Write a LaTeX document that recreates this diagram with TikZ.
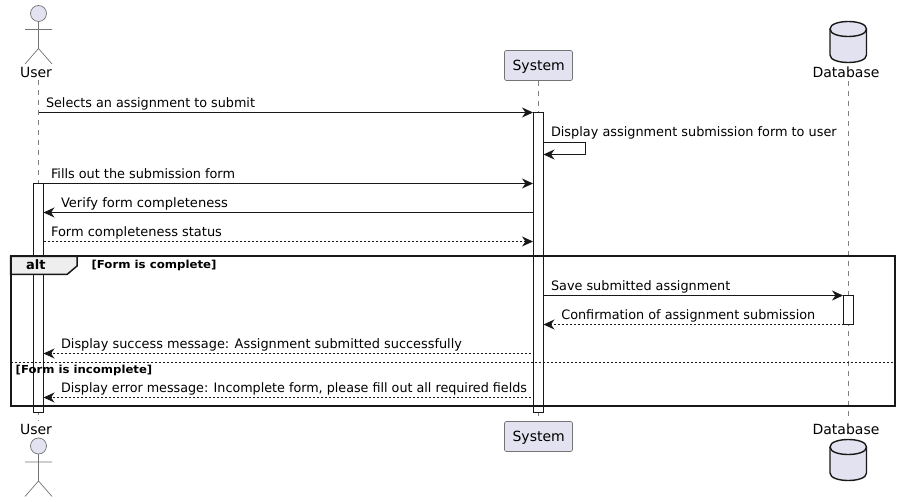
\documentclass[tikz,border=0pt]{standalone}
\usepackage{fontspec}
\usepackage{graphicx}
\setmainfont{DejaVu Sans}
\usetikzlibrary{arrows.meta}
\definecolor{umlink}{HTML}{181818}
\definecolor{umlfill}{HTML}{E2E2F0}
\definecolor{umltab}{HTML}{EEEEEE}
\newcommand{\fitto}[2]{\resizebox{#1pt}{\height}{#2}}
\tikzset{
  lbl/.style={anchor=base west,inner sep=0pt,outer sep=0pt,font=\fontsize{13}{15}\selectfont,text=black},
  partlbl/.style={anchor=base,inner sep=0pt,outer sep=0pt,font=\fontsize{14}{16}\selectfont,text=black},
  guardlbl/.style={anchor=base west,inner sep=0pt,outer sep=0pt,font=\fontsize{11}{13}\selectfont\bfseries,text=black},
  partbox/.style={draw=umlink!60,fill=umlfill,line width=0.7pt,rounded corners=2pt},
  person/.style={draw=umlink!60,line width=0.7pt},
  dbshape/.style={draw=umlink,fill=umlfill,line width=1.4pt},
  life/.style={draw=umlink!55,line width=0.6pt,dash pattern=on 5pt off 5pt},
  activ/.style={draw=umlink,fill=white,line width=1pt},
  msg/.style={draw=umlink,line width=1pt,-{Stealth[length=11pt,width=10pt,inset=3.5pt]}},
  rmsg/.style={msg,dash pattern=on 2pt off 2pt},
}
\begin{document}
\begin{tikzpicture}[x=1pt,y=-1pt]
\useasboundingbox (0,0) rectangle (901,502);
% lifelines
\coordinate (ut) at (38.5,80); \coordinate (ub) at (38.5,421);
\coordinate (st) at (538.5,81); \coordinate (sb) at (538.5,421);
\coordinate (dt) at (848.5,81); \coordinate (db) at (848.5,421);
\draw[life] (ut) -- (ub);
\draw[life] (st) -- (sb);
\draw[life] (dt) -- (db);
% actors
\foreach \y in {13.5,446}{
  \draw[person,fill=umlfill] (38.5,\y) circle[radius=8];
  \draw[person] (38.5,\y+8) -- (38.5,\y+35.5)
    (25,\y+16) -- (52,\y+16)
    (25,\y+50.5) -- (38.5,\y+35) -- (52,\y+50.5);
}
% system
\draw[partbox] (504.5,50.5) rectangle (572.5,80.5);
\draw[partbox] (504.5,421.5) rectangle (572.5,451.5);
% database
\foreach \y in {19,437}{
  \draw[dbshape] (830,\y+10) .. controls (830,\y) and (866.5,\y) .. (866.5,\y+10)
    -- (866.5,\y+36) .. controls (866.5,\y+46) and (830,\y+46) .. (830,\y+36) -- cycle;
  \draw[dbshape,fill=none] (830,\y+10) .. controls (830,\y+20) and (866.5,\y+20) .. (866.5,\y+10);
}
\node[partlbl] (userT) at (36,78) {User};
\node[partlbl] (sysT) at (538.7,70.5) {System};
\node[partlbl] (dbT) at (846,78) {Database};
\node[partlbl] (userB) at (36,434) {User};
\node[partlbl] (sysB) at (538.7,441.5) {System};
\node[partlbl] (dbB) at (846,434) {Database};
% activations
\draw[activ] (533.5,112.5) rectangle (543.5,412.5);
\draw[activ] (33.5,183.5) rectangle (43.5,412.5);
\draw[activ] (843.5,295.5) rectangle (853.5,324.5);
% frame
\draw[umlink,line width=1.5pt,fill=umltab] (10.5,256.5) -- (77,256.5) -- (77,266) -- (67,274.5) -- (10.5,274.5) -- cycle;
\draw[umlink,line width=2pt] (10.5,256.5) rectangle (894.5,405.5);
\draw[umlink,line width=0.8pt,dash pattern=on 2pt off 2pt] (10.5,362.5) coordinate (e1) -- (894.5,362.5) coordinate (e2);
\node[anchor=base west,inner sep=0pt,font=\fontsize{13}{15}\selectfont\bfseries] (altT) at (26,270) {alt};
\node[guardlbl] (g1) at (91.5,269) {\fitto{125}{[Form is complete]}};
\node[guardlbl] (g2) at (15.7,373) {\fitto{136.6}{[Form is incomplete]}};
% message ends
\coordinate (a1) at (38.5,112.5); \coordinate (b1) at (533,112.5);
\coordinate (s1) at (543.5,142.5); \coordinate (s2) at (585.5,142.5); \coordinate (s3) at (585.5,154.5); \coordinate (s4) at (543.5,154.5);
\coordinate (a3) at (43.5,183.5); \coordinate (b3) at (533,183.5);
\coordinate (b4) at (533,212.5); \coordinate (a4) at (43.5,212.5);
\coordinate (a5) at (43.5,241.5); \coordinate (b5) at (533,241.5);
\coordinate (b6) at (543.5,295.5); \coordinate (c6) at (843,295.5);
\coordinate (c7) at (843.5,324.5); \coordinate (b7) at (543.5,324.5);
\coordinate (b8) at (531,353.5); \coordinate (a8) at (43.5,353.5);
\coordinate (b9) at (531,397.5); \coordinate (a9) at (43.5,397.5);
\draw[msg] (a1) -- (b1);
\draw[msg] (s1) -- (s2) -- (s3) -- (s4);
\draw[msg] (a3) -- (b3);
\draw[msg] (b4) -- (a4);
\draw[rmsg] (a5) -- (b5);
\draw[msg] (b6) -- (c6);
\draw[rmsg] (c7) -- (b7);
\draw[rmsg] (b8) -- (a8);
\draw[rmsg] (b9) -- (a9);
% labels
\node[lbl] (m1) at (46,107.5) {\fitto{209}{Selects an assignment to submit}};
\node[lbl] (m2) at (551,136.5) {\fitto{285.7}{Display assignment submission form to user}};
\node[lbl] (m3) at (51,179) {\fitto{184}{Fills out the submission form}};
\node[lbl] (m4) at (61,208) {\fitto{167}{Verify form completeness}};
\node[lbl] (m5) at (51,237) {\fitto{171}{Form completeness status}};
\node[lbl] (m6) at (551,290.5) {\fitto{179.3}{Save submitted assignment}};
\node[lbl] (m7) at (561.3,319.5) {\fitto{254}{Confirmation of assignment submission}};
\node[lbl] (m8) at (61,348.5) {\fitto{401}{Display success message: Assignment submitted successfully}};
\node[lbl] (m9) at (61,392.5) {\fitto{466}{Display error message: Incomplete form, please fill out all required fields}};
\end{tikzpicture}
\end{document}
